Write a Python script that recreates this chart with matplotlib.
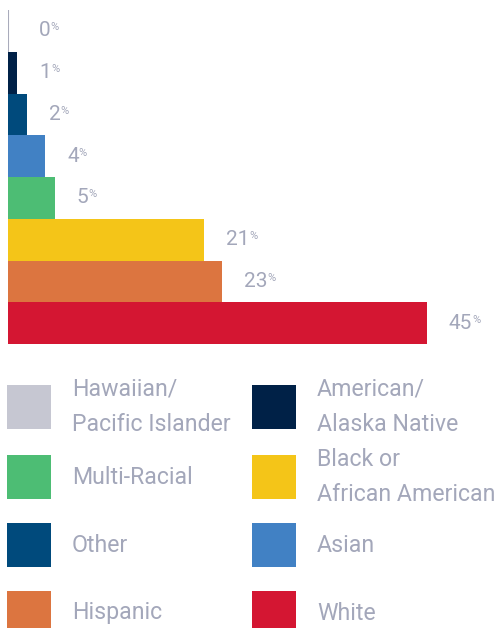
import matplotlib
matplotlib.use("Agg")
import matplotlib.pyplot as plt
from matplotlib.patches import Rectangle
from matplotlib.transforms import IdentityTransform

plt.rcParams['font.family'] = ['Roboto', 'DejaVu Sans']

# data, top to bottom
groups = ["Hawaiian/\nPacific Islander", "American/\nAlaska Native", "Other", "Asian",
          "Multi-Racial", "Black or\nAfrican American", "Hispanic", "White"]
shares = [0, 1, 2, 4, 5, 21, 23, 45]
colors = ["#c6c7d2", "#002147", "#004a7c", "#4181c4",
          "#4dbd74", "#f4c518", "#dc7540", "#d41632"]
# legend reading order (row by row, two columns)
legend_order = ["Hawaiian/\nPacific Islander", "American/\nAlaska Native",
                "Multi-Racial", "Black or\nAfrican American",
                "Other", "Asian", "Hispanic", "White"]

TXT = "#a3a7ba"
W, H = 495, 628
fig = plt.figure(figsize=(W / 100, H / 100), dpi=100)

# bar axes, placed in pixels
px_per_pct = 9.31
left, top, bottom = 8, 10, 344
ax = fig.add_axes([left / W, 1 - bottom / H, (W - left) / W, (bottom - top) / H])
ax.set_xlim(0, (W - left) / px_per_pct)
ax.set_ylim(len(shares) - 0.5, -0.5)
ax.axis("off")

ypos = list(range(len(shares)))
ax.barh(ypos, shares, height=1.0, color=colors, linewidth=0)
# zero-width bar shows as a thin line
for y, v in zip(ypos, shares):
    if v == 0:
        ax.barh(y, v, height=1.0, color="none", edgecolor="#a9abbb", linewidth=1.5)

nums = []
for y, v in zip(ypos, shares):
    off = 31 if v == 0 else 22
    t = ax.annotate(str(v), (v, y), xytext=(off, 0), textcoords="offset pixels",
                    ha="left", va="center", fontsize=15, color=TXT, annotation_clip=False)
    nums.append(t)

fig.canvas.draw()
rend = fig.canvas.get_renderer()
for t in nums:
    bb = t.get_window_extent(rend)
    fig.text(bb.x1, bb.y1 - 1, "%", transform=IdentityTransform(),
             ha="left", va="top", fontsize=8, color=TXT)

# legend drawn in pixel space
lax = fig.add_axes([0, 0, 1, 1], zorder=-1)
lax.set_xlim(0, W)
lax.set_ylim(H, 0)
lax.axis("off")
col_x = [7, 252]
row_y = [385, 455, 523, 591]
sq = 44
for i, name in enumerate(legend_order):
    c = colors[groups.index(name)]
    x = col_x[i % 2]
    y = row_y[i // 2]
    lax.add_patch(Rectangle((x, y), sq, sq, color=c, linewidth=0))
    lax.text(x + 65, y + sq / 2, name, ha="left", va="center", fontsize=16.7,
             color=TXT, linespacing=1.72)

fig.savefig("out.png", dpi=100)
